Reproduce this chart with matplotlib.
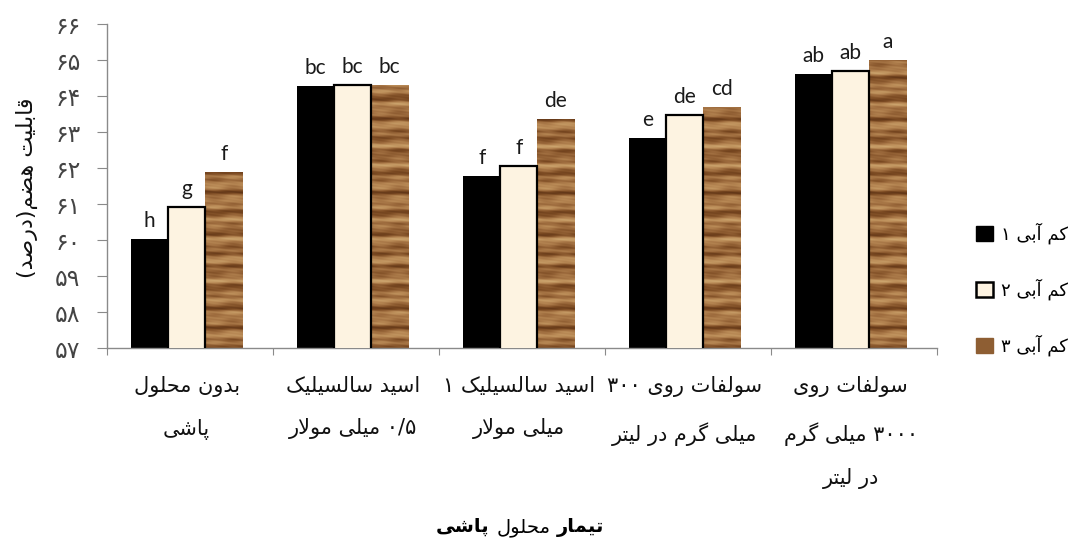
import numpy as np
import matplotlib
matplotlib.use("Agg")
import matplotlib.pyplot as plt
from matplotlib.patches import Patch
from matplotlib.offsetbox import TextArea, HPacker, AnnotationBbox
from matplotlib.colors import LinearSegmentedColormap

# ---------------- data ----------------
categories = [
    "بدون محلول\nپاشی",
    "اسید سالسیلیک\n۰/۵ میلی مولار",
    "اسید سالسیلیک ۱\nمیلی مولار",
    "سولفات روی ۳۰۰\nمیلی گرم در لیتر",
    "سولفات روی\n۳۰۰۰ میلی گرم\nدر لیتر",
]
series_names = ["کم آبی ۱", "کم آبی ۲", "کم آبی ۳"]
stress1 = [60.03, 64.28, 61.78, 62.83, 64.61]
stress2 = [60.92, 64.31, 62.06, 63.47, 64.69]
stress3 = [61.89, 64.31, 63.36, 63.69, 65.00]
letters1 = ["h", "bc", "f", "e", "ab"]
letters2 = ["g", "bc", "f", "de", "ab"]
letters3 = ["f", "bc", "de", "cd", "a"]
y_ticks = [57, 58, 59, 60, 61, 62, 63, 64, 65, 66]
y_label = "قابلیت هضم(درصد)"
x_label_parts = ["تیمار", "محلول", "پاشی"]

# ---------------- minimal Persian shaping + bidi ----------------
FORMS = {
    'ا': (0xFE8D, 0xFE8E), 'آ': (0xFE81, 0xFE82), 'د': (0xFEA9, 0xFEAA),
    'ر': (0xFEAD, 0xFEAE), 'و': (0xFEED, 0xFEEE), 'ز': (0xFEAF, 0xFEB0),
    'ب': (0xFE8F, 0xFE90, 0xFE91, 0xFE92), 'ت': (0xFE95, 0xFE96, 0xFE97, 0xFE98),
    'ح': (0xFEA1, 0xFEA2, 0xFEA3, 0xFEA4), 'س': (0xFEB1, 0xFEB2, 0xFEB3, 0xFEB4),
    'ش': (0xFEB5, 0xFEB6, 0xFEB7, 0xFEB8), 'ص': (0xFEB9, 0xFEBA, 0xFEBB, 0xFEBC),
    'ض': (0xFEBD, 0xFEBE, 0xFEBF, 0xFEC0), 'ف': (0xFED1, 0xFED2, 0xFED3, 0xFED4),
    'ق': (0xFED5, 0xFED6, 0xFED7, 0xFED8), 'ل': (0xFEDD, 0xFEDE, 0xFEDF, 0xFEE0),
    'م': (0xFEE1, 0xFEE2, 0xFEE3, 0xFEE4), 'ن': (0xFEE5, 0xFEE6, 0xFEE7, 0xFEE8),
    'ه': (0xFEE9, 0xFEEA, 0xFEEB, 0xFEEC), 'پ': (0xFB56, 0xFB57, 0xFB58, 0xFB59),
    'ک': (0xFB8E, 0xFB8F, 0xFB90, 0xFB91), 'گ': (0xFB92, 0xFB93, 0xFB94, 0xFB95),
    'ی': (0xFBFC, 0xFBFD, 0xFBFE, 0xFBFF),
}
LAM_ALEF = {'ا': (0xFEFB, 0xFEFC), 'آ': (0xFEF5, 0xFEF6)}
DIGITS = set("0123456789۰۱۲۳۴۵۶۷۸۹/.")
MIRROR = {'(': ')', ')': '('}


def _shape_line(line):
    ch = list(line)
    n = len(ch)
    out = []
    i = 0
    while i < n:
        c = ch[i]
        prev = ch[i - 1] if i > 0 else None
        prev_joins = prev in FORMS and len(FORMS[prev]) == 4
        if c not in FORMS:
            out.append(c)
            i += 1
            continue
        if c == 'ل' and i + 1 < n and ch[i + 1] in LAM_ALEF:
            lig = LAM_ALEF[ch[i + 1]]
            out.append(chr(lig[1] if prev_joins else lig[0]))
            i += 2
            continue
        f = FORMS[c]
        nxt = ch[i + 1] if i + 1 < n else None
        next_joins = len(f) == 4 and nxt in FORMS
        if prev_joins and next_joins:
            out.append(chr(f[3]))
        elif prev_joins:
            out.append(chr(f[1]))
        elif next_joins:
            out.append(chr(f[2]))
        else:
            out.append(chr(f[0]))
        i += 1
    tokens = []
    for c in out:
        is_d = c in DIGITS
        if tokens and tokens[-1][0] == is_d:
            tokens[-1][1].append(c)
        else:
            tokens.append([is_d, [c]])
    vis = []
    for is_d, cs in reversed(tokens):
        if is_d:
            vis.extend(cs)
        else:
            vis.extend(MIRROR.get(c, c) for c in reversed(cs))
    return "".join(vis)


def fa(text):
    return "\n".join(_shape_line(l) for l in text.split("\n"))


def fa_num(v):
    return "".join("۰۱۲۳۴۵۶۷۸۹"[int(d)] if d.isdigit() else d for d in str(v))


# ---------------- figure ----------------
plt.rcParams['font.family'] = ['DejaVu Sans']
fig = plt.figure(figsize=(10.76, 5.43), dpi=100)
ax = fig.add_axes([107 / 1076, 1 - 348 / 543, 830 / 1076, 324 / 543])

n = len(categories)
centers = np.arange(n) + 0.48
w = 0.223
offsets = [-w, 0.0, w]
black = "#000000"
cream = "#FDF3E1"
brown = "#8E5E33"

b1 = ax.bar(centers + offsets[0], stress1, w, color=black, zorder=2)
b2 = ax.bar(centers + offsets[1], stress2, w, color=cream, edgecolor="#000000",
            linewidth=1.6, zorder=3)
b3 = ax.bar(centers + offsets[2], stress3, w, color=brown, zorder=2)

# wood-like texture for the third series (deterministic stripes)
yy = np.linspace(57, 66, 900)[:, None]
xx = np.linspace(0, 1, 60)[None, :]
t = (0.52 + 0.20 * np.sin(2 * np.pi * yy / 0.53 + 0.7 + 0.6 * np.sin(2 * np.pi * xx))
     + 0.16 * np.sin(2 * np.pi * yy / 0.29 + 2.1)
     + 0.10 * np.sin(2 * np.pi * yy / 0.17 + 0.3 + 0.8 * xx)
     + 0.05 * np.sin(2 * np.pi * (yy / 0.08 + xx * 1.7)))
t = np.clip(t, 0, 1)
wood = LinearSegmentedColormap.from_list(
    "wood", ["#5C3215", "#7B4A22", "#9D6B3D", "#B98A56", "#CDA66F"])
for rect in b3:
    x0 = rect.get_x()
    img = ax.imshow(t, cmap=wood, vmin=0, vmax=1, aspect="auto",
                    extent=[x0, x0 + rect.get_width(), 57, 66], origin="lower",
                    zorder=2.5, interpolation="bilinear")
    img.set_clip_path(rect)

ax.set_xlim(0, n)
ax.set_ylim(57, 66)

# bar letters
letter_font = dict(family=["Lato", "DejaVu Sans"], fontsize=15, color="#1a1a1a")
for bars, labs in ((b1, letters1), (b2, letters2), (b3, letters3)):
    for rect, lab in zip(bars, labs):
        ax.annotate(lab, (rect.get_x() + rect.get_width() / 2, rect.get_height()),
                    xytext=(0, 8.5), textcoords="offset points",
                    ha="center", va="baseline", **letter_font)

# spines / ticks
for s in ("top", "right"):
    ax.spines[s].set_visible(False)
for s in ("left", "bottom"):
    ax.spines[s].set_color("#8a8a8a")
    ax.spines[s].set_linewidth(1.0)
ax.set_yticks(y_ticks)
ax.set_yticklabels([fa_num(v) for v in y_ticks], fontsize=17, color="#444444")
ax.tick_params(axis="y", length=7, color="#8a8a8a", pad=12)
ax.set_xticks(np.arange(n + 1))
ax.set_xticklabels([])
ax.tick_params(axis="x", length=5, color="#8a8a8a", direction="out")

# category labels
for c, lab in zip(centers, categories):
    ax.annotate(fa(lab), (c, 0), xycoords=("data", "axes fraction"),
                xytext=(0, -20), textcoords="offset points",
                ha="center", va="top", multialignment="center",
                fontsize=15, linespacing=2.38, color="#111111")

# y label
fig.text(27 / 1076, 1 - 188 / 543, fa(y_label), rotation=90,
         ha="center", va="center", fontsize=16, color="#111111")

# x label (mixed weights)
parts = [TextArea(fa(x_label_parts[2]), textprops=dict(fontsize=14, fontweight="bold")),
         TextArea(fa(x_label_parts[1]), textprops=dict(fontsize=14)),
         TextArea(fa(x_label_parts[0]), textprops=dict(fontsize=14, fontweight="bold"))]
pack = HPacker(children=parts, align="baseline", pad=0, sep=5)
ab = AnnotationBbox(pack, (520 / 1076, 1 - 527 / 543), xycoords="figure fraction",
                    frameon=False, box_alignment=(0.5, 0.5))
fig.add_artist(ab)

# legend
handles = [Patch(facecolor=black, edgecolor=black),
           Patch(facecolor=cream, edgecolor="#000000", linewidth=1.8),
           Patch(facecolor=brown, edgecolor=brown)]
leg = fig.legend(handles, [fa(s) for s in series_names], loc="center left",
                 bbox_to_anchor=(960 / 1076, 1 - 289 / 543), frameon=False,
                 handlelength=0.9, handleheight=0.9, handletextpad=0.45,
                 labelspacing=1.9, fontsize=13)

fig.savefig("out.png", dpi=100, facecolor="white")
